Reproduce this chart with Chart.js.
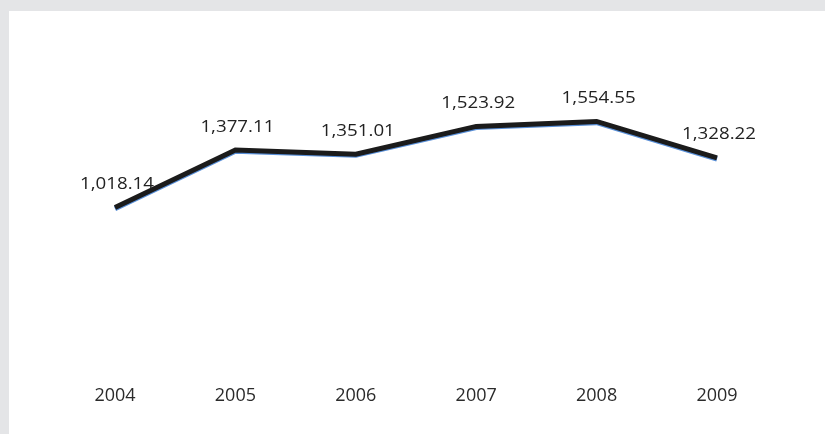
<!DOCTYPE html>
<html>
<head>
<meta charset="utf-8">
<script src="https://cdn.jsdelivr.net/npm/chart.js@4/dist/chart.umd.min.js"></script>
<style>
  html, body { margin: 0; padding: 0; background: #e4e5e7; width: 825px; height: 434px; overflow: hidden; }
  #panel { position: absolute; left: 9px; top: 11px; width: 816px; height: 423px; background: #ffffff; }
  #wrap { position: absolute; left: 0; top: 0; width: 825px; height: 434px; }
</style>
</head>
<body>
<div id="panel"></div>
<div id="wrap"><canvas id="c" width="825" height="434"></canvas></div>
<script>
const years = ['2004', '2005', '2006', '2007', '2008', '2009'];
const values = [1018.14, 1377.11, 1351.01, 1523.92, 1554.55, 1328.22];
const valueLabels = ['1,018.14', '1,377.11', '1,351.01', '1,523.92', '1,554.55', '1,328.22'];

const edgeShadow = {
  id: 'edgeShadow',
  beforeDatasetDraw(chart) {
    const ctx = chart.ctx;
    ctx.save();
    ctx.shadowColor = 'rgba(70,130,210,0.9)';
    ctx.shadowOffsetY = 1.2;
    ctx.shadowOffsetX = 0;
    ctx.shadowBlur = 0;
  },
  afterDatasetDraw(chart) {
    chart.ctx.restore();
  }
};

const pointLabels = {
  id: 'pointLabels',
  afterDatasetsDraw(chart) {
    const ctx = chart.ctx;
    const meta = chart.getDatasetMeta(0);
    ctx.save();
    ctx.font = '16px "Open Sans"';
    ctx.fillStyle = '#222222';
    ctx.textAlign = 'center';
    ctx.textBaseline = 'middle';
    meta.data.forEach((pt, i) => {
      ctx.save();
      ctx.translate(pt.x + 2, pt.y - 23);
      ctx.scale(1.17, 1);
      ctx.fillText(valueLabels[i], 0, 0);
      ctx.restore();
    });
    ctx.restore();
  }
};

new Chart(document.getElementById('c'), {
  type: 'line',
  data: {
    labels: years,
    datasets: [{
      data: values,
      borderColor: '#1b1b1b',
      borderWidth: 5,
      borderCapStyle: 'butt',
      borderJoinStyle: 'miter',
      pointRadius: 0,
      pointHoverRadius: 0,
      tension: 0,
      fill: false,
      clip: false
    }]
  },
  options: {
    responsive: false,
    animation: false,
    events: [],
    layout: { padding: { left: 115, right: 108, top: 50, bottom: 13.5 } },
    plugins: { legend: { display: false }, tooltip: { enabled: false } },
    scales: {
      x: {
        offset: false,
        grid: { display: false, drawTicks: false },
        border: { display: false },
        ticks: {
          padding: 14,
          maxRotation: 0,
          color: '#2b2b2b',
          font: { family: '"Open Sans"', size: 18 }
        }
      },
      y: {
        display: false,
        min: 0,
        max: 2000
      }
    }
  },
  plugins: [edgeShadow, pointLabels]
});
</script>
</body>
</html>
